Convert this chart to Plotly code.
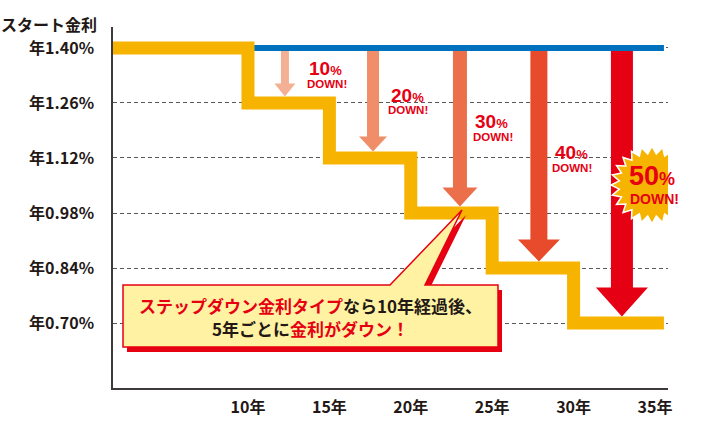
import math
import plotly.graph_objects as go

# ---------------- data ----------------
years = [10, 15, 20, 25, 30, 35]
year_labels = ["10年", "15年", "20年", "25年", "30年", "35年"]
rates = [1.40, 1.26, 1.12, 0.98, 0.84, 0.70]
rate_labels = ["年1.40%", "年1.26%", "年1.12%", "年0.98%", "年0.84%", "年0.70%"]
start_year = 1.708
end_year = 35.55
down_labels = ["10", "20", "30", "40", "50"]
arrow_years = [12.27, 17.68, 23.02, 27.87, 32.97]
arrow_colors = ["#F3B094", "#EF8E69", "#EC6F4B", "#E84B2B", "#E50013"]

# ---------------- layout constants ----------------
W, H = 706, 434
L, R, T, B = 113, 38, 27, 46
PW, PH = W - L - R, H - T - B
XR = [1.708, 35.80]
YR = [0.5346, 1.4534]
FONT = "Noto Sans CJK JP"
DARK = "#231815"
RED = "#E60012"
YELLOW = "#F6B400"
BLUE = "#0071BC"

ypp = (YR[1] - YR[0]) / PH          # data units per pixel (y)
def px2x(px):
    return XR[0] + (px - L) / PW * (XR[1] - XR[0])
def py2y(py):
    return YR[1] - (py - T) * ypp
def p_x(px):
    return (px - L) / PW
def p_y(py):
    return (T + PH - py) / PH

fig = go.Figure()

# blue reference line (start rate kept)
fig.add_trace(go.Scatter(x=[years[0], end_year], y=[rates[0], rates[0]],
                         mode="lines", line=dict(color=BLUE, width=6),
                         hoverinfo="skip", showlegend=False))
# step-down yellow line
sx = [start_year] + years[:-1] + [end_year]
sy = rates + [rates[-1]]
fig.add_trace(go.Scatter(x=sx, y=sy, mode="lines", line_shape="hv",
                         line=dict(color=YELLOW, width=13),
                         hoverinfo="skip", showlegend=False))

shapes = []
half_band = 6.5 * ypp
# arrows
shaft_w = [8, 12, 14, 17, 22]
head_w = [21, 28, 35, 42, 52]
head_h = [13, 15, 19, 22, 29]
y_top = rates[0] - 3 * ypp
for i, xa in enumerate(arrow_years):
    tip = rates[i + 1] + half_band
    base = tip + head_h[i] * ypp
    sw, hw = shaft_w[i] / 2, head_w[i] / 2
    path = (f"M {-sw},{y_top} L {sw},{y_top} L {sw},{base} L {hw},{base} "
            f"L 0,{tip} L {-hw},{base} L {-sw},{base} Z")
    shapes.append(dict(type="path", path=path, xref="x", yref="y",
                       xsizemode="pixel", xanchor=xa,
                       fillcolor=arrow_colors[i], line=dict(width=0),
                       layer="above"))

# starburst
n = 24
ro, ri = 41, 33
pts = []
for k in range(2 * n):
    r = ro if k % 2 == 0 else ri
    a = math.pi * k / n
    pts.append((r * math.cos(a), r * 0.95 * math.sin(a)))
spath = "M " + " L ".join(f"{x:.2f},{y:.2f}" for x, y in pts) + " Z"
shapes.append(dict(type="path", path=spath, xref="x", yref="y",
                   xsizemode="pixel", ysizemode="pixel",
                   xanchor=px2x(652), yanchor=py2y(185),
                   fillcolor=YELLOW, line=dict(color="white", width=1.5),
                   layer="above"))

# callout
def poly(points):
    return "M " + " L ".join(f"{p_x(a):.5f},{p_y(b):.5f}" for a, b in points) + " Z"
box = [(123, 285), (390, 285), (462, 210), (425, 285), (498, 285), (498, 347), (123, 347)]
shadow = [(a + 4, b + 5) for a, b in box]
shapes.append(dict(type="path", path=poly(shadow), xref="paper", yref="paper",
                   fillcolor=RED, line=dict(width=0), layer="above"))
shapes.append(dict(type="path", path=poly(box), xref="paper", yref="paper",
                   fillcolor="#FFF3A3", line=dict(color=RED, width=1.5), layer="above"))

ann = []
# title
ann.append(dict(text="スタート金利", xref="paper", yref="paper", x=p_x(99), y=p_y(24),
                xanchor="right", yanchor="middle", showarrow=False,
                font=dict(family=FONT, size=16, color=DARK, weight=700)))
# % DOWN labels
pct_pos = [(325, 68, 327, 84), (407, 95, 408, 110), (491, 121, 493, 137),
           (571, 152, 572, 168)]
for i, (px, py, dx, dy) in enumerate(pct_pos):
    ann.append(dict(text=f"{down_labels[i]}<span style='font-size:13px'>%</span>",
                    xref="x", yref="y", x=px2x(px), y=py2y(py), showarrow=False,
                    xanchor="center", yanchor="middle",
                    font=dict(family="Liberation Sans", size=19, color=RED, weight=700)))
    ann.append(dict(text="DOWN!", xref="x", yref="y", x=px2x(dx), y=py2y(dy),
                    showarrow=False, xanchor="center", yanchor="middle",
                    font=dict(family="Liberation Sans", size=11.5, color=RED, weight=700)))
ann.append(dict(text=f"{down_labels[4]}<span style='font-size:18px'>%</span>",
                xref="x", yref="y", x=px2x(652), y=py2y(176), showarrow=False,
                xanchor="center", yanchor="middle",
                font=dict(family="Liberation Sans", size=27, color=RED, weight=700)))
ann.append(dict(text="DOWN!", xref="x", yref="y", x=px2x(654), y=py2y(199),
                showarrow=False, xanchor="center", yanchor="middle",
                font=dict(family="Liberation Sans", size=14, color=RED, weight=700)))
# callout text
ann.append(dict(text=f"<span style='color:{RED}'>ステップダウン金利タイプ</span>なら10年経過後、",
                xref="paper", yref="paper", x=p_x(310), y=p_y(305), showarrow=False,
                xanchor="center", yanchor="middle",
                font=dict(family=FONT, size=17, color=DARK, weight=700)))
ann.append(dict(text=f"5年ごとに<span style='color:{RED}'>金利がダウン！</span>",
                xref="paper", yref="paper", x=p_x(310), y=p_y(328), showarrow=False,
                xanchor="center", yanchor="middle",
                font=dict(family=FONT, size=17, color=DARK, weight=700)))

fig.update_layout(
    width=W, height=H, autosize=False,
    margin=dict(l=L, r=R, t=T, b=B, pad=0),
    paper_bgcolor="white", plot_bgcolor="white",
    shapes=shapes, annotations=ann, showlegend=False,
    xaxis=dict(range=XR, tickvals=years, ticktext=year_labels,
               showgrid=False, zeroline=False, showline=True,
               linecolor="#3E3A39", linewidth=1.5, ticks="",
               ticklabelstandoff=4,
               tickfont=dict(family=FONT, size=16, color=DARK, weight=700)),
    yaxis=dict(range=YR, tickvals=rates, ticktext=rate_labels,
               showgrid=True, gridcolor="#595757", gridwidth=1, griddash="4px,3px",
               zeroline=False, showline=True, linecolor="#3E3A39", linewidth=1.5,
               ticks="", ticklabelstandoff=14,
               tickfont=dict(family=FONT, size=16, color=DARK, weight=700)),
)

fig.write_html("out.html")
